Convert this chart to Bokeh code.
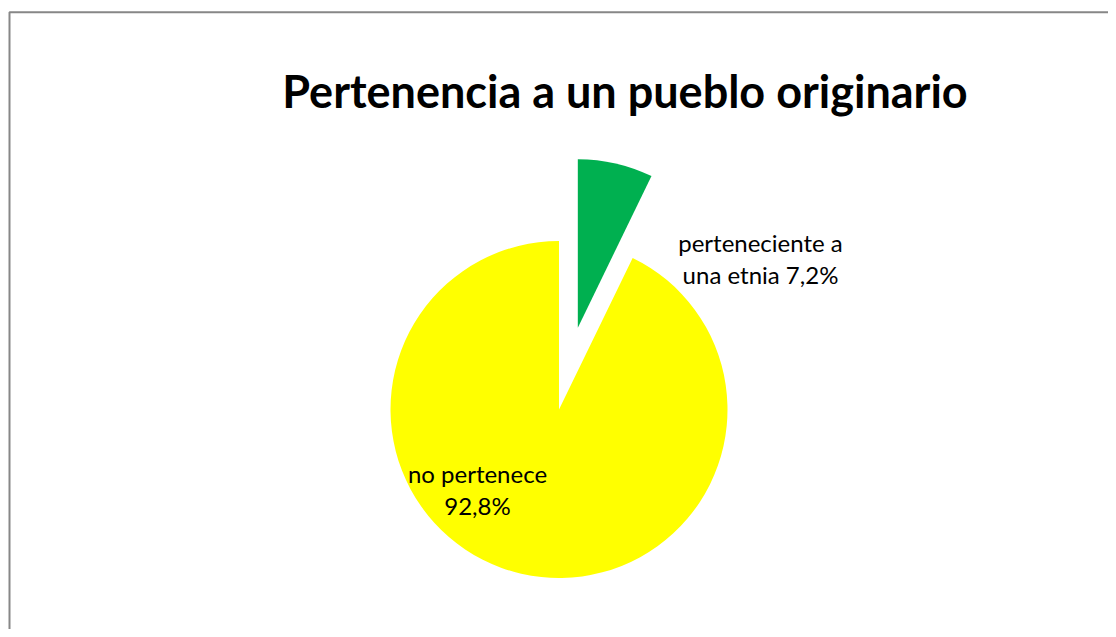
import math
from bokeh.plotting import figure
from bokeh.models import Range1d, ColumnDataSource
from bokeh.core.properties import value
from bokeh.embed import file_html
from bokeh.resources import INLINE

# ---- data ----
categories = ["perteneciente a una etnia", "no pertenece"]
percents = [7.2, 92.8]
label_texts = ["perteneciente a\nuna etnia 7,2%", "no pertenece\n92,8%"]
colors = ["#00B050", "#FFFF00"]
title_text = "Pertenencia a un pueblo originario"

# ---- layout (pixel coordinates; data y = -pixel y) ----
W, H = 1108, 629
cx, cy = 558.5, -409.0
R = 168.5
explode = [84.0, 0.0]
label_anchor = [(760, -242), (477, -473)]   # baseline of first line
line_gap = 31.5

p = figure(width=W, height=H, output_backend="svg", toolbar_location=None,
           x_range=Range1d(0, W), y_range=Range1d(-H, 0),
           min_border=0)
p.axis.visible = False
p.grid.visible = False
p.outline_line_color = None
p.background_fill_color = "white"
p.border_fill_color = "white"

total = sum(percents)
start = math.pi / 2
xs, ys, sa, ea = [], [], [], []
for i, v in enumerate(percents):
    span = 2 * math.pi * v / total
    end_a = start
    start_a = start - span
    mid = (start_a + end_a) / 2
    xs.append(cx + explode[i] * math.cos(mid))
    ys.append(cy + explode[i] * math.sin(mid))
    sa.append(start_a)
    ea.append(end_a)
    start = start_a

src = ColumnDataSource(dict(x=xs, y=ys, start=sa, end=ea, color=colors, cat=categories))
p.wedge(x="x", y="y", radius=R, radius_units="screen", start_angle="start", end_angle="end",
        fill_color="color", line_color=None, source=src)

lx, ly, lt = [], [], []
for (ax, ay), t in zip(label_anchor, label_texts):
    for k, line in enumerate(t.split("\n")):
        lx.append(ax)
        ly.append(ay - k * line_gap)
        lt.append(line)
lsrc = ColumnDataSource(dict(x=lx, y=ly, t=lt))
p.text(x="x", y="y", text="t", source=lsrc, text_align="center", text_baseline="alphabetic",
       text_font=value("Lato"), text_font_size="24px", text_color="#000000")

p.text(x=[624.5], y=[-90], text=[title_text], text_align="center", text_baseline="alphabetic",
       text_font=value("Lato"), text_font_style="bold", text_font_size="45px", text_color="#000000")

# chart frame (top and left edges visible)
p.line(x=[9, 9, W], y=[-H, -11.8, -11.8], line_color="#878787", line_width=2)

open("out.html", "w").write(file_html(p, INLINE))
